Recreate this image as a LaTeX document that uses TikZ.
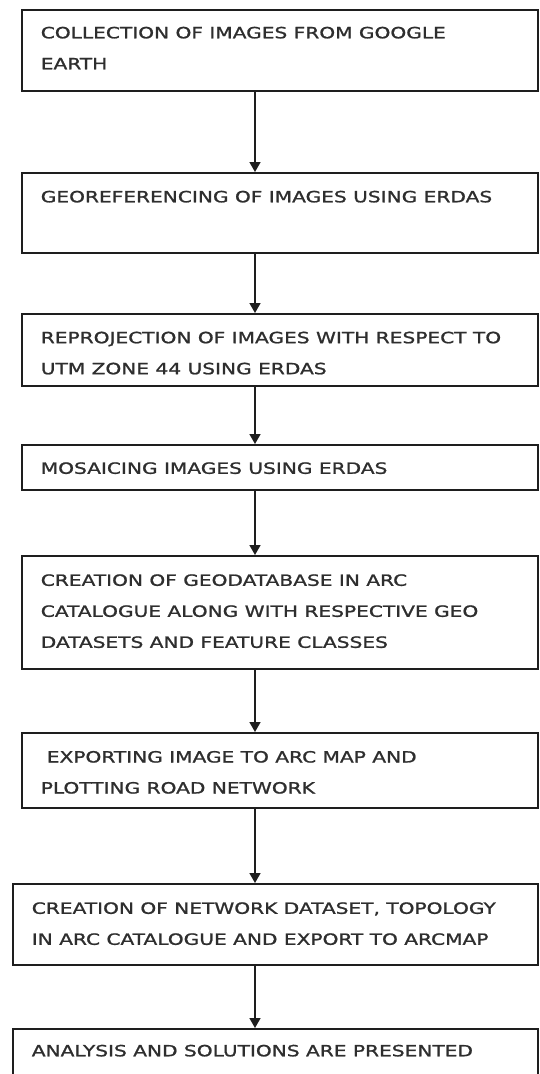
\documentclass[tikz,border=0pt]{standalone}
\usepackage{fontspec}
\setmainfont[FakeStretch=1.3,FakeBold=1.2]{DejaVu Sans}
\usetikzlibrary{arrows.meta}
\definecolor{txt}{HTML}{2E2E2E}
\definecolor{ln}{HTML}{1E1E1E}
\newcommand{\flowtxt}[4]{\parbox[t][#1][t]{#2}{\fontsize{15.5}{31}\selectfont\raggedright\rule{0pt}{#3}#4}}
\begin{document}
\begin{tikzpicture}[x=1pt,y=-1pt,
  box/.style={draw=ln, line width=1.6pt, fill=white, text=txt, inner xsep=19pt, inner ysep=0pt, anchor=north west, rectangle},
  arr/.style={draw=ln, line width=1.6pt, -{Triangle[length=10pt,width=11pt]}}]
\useasboundingbox (0,0) rectangle (539,1074);
\fill[white] (0,0) rectangle (539,1074);
\coordinate (ax) at (255,0);
\node[box] (b1) at (21,9) {\flowtxt{81pt}{478pt}{28.5pt}{COLLECTION OF IMAGES FROM GOOGLE\\EARTH}};
\node[box] (b2) at (21,172) {\flowtxt{80pt}{478pt}{29.5pt}{GEOREFERENCING OF IMAGES USING ERDAS}};
\node[box] (b3) at (21,313) {\flowtxt{72pt}{478pt}{29.4pt}{REPROJECTION OF IMAGES WITH RESPECT TO\\UTM ZONE 44 USING ERDAS}};
\node[box] (b4) at (21,444) {\flowtxt{45pt}{478pt}{29pt}{MOSAICING IMAGES USING ERDAS}};
\node[box] (b5) at (21,555) {\flowtxt{113pt}{478pt}{30pt}{CREATION OF GEODATABASE IN ARC\\CATALOGUE ALONG WITH RESPECTIVE GEO\\DATASETS AND FEATURE CLASSES}};
\node[box] (b6) at (21,732) {\flowtxt{75pt}{478pt}{29.7pt}{\hspace*{6pt}EXPORTING IMAGE TO ARC MAP AND\\PLOTTING ROAD NETWORK}};
\node[box] (b7) at (12,883) {\flowtxt{81pt}{487pt}{30pt}{CREATION OF NETWORK DATASET, TOPOLOGY\\IN ARC CATALOGUE AND EXPORT TO ARCMAP}};
\node[box] (b8) at (12,1028) {\flowtxt{60pt}{487pt}{27.5pt}{ANALYSIS AND SOLUTIONS ARE PRESENTED}};
\draw[arr] (b1.south -| ax) -- (b2.north -| ax);
\draw[arr] (b2.south -| ax) -- (b3.north -| ax);
\draw[arr] (b3.south -| ax) -- (b4.north -| ax);
\draw[arr] (b4.south -| ax) -- (b5.north -| ax);
\draw[arr] (b5.south -| ax) -- (b6.north -| ax);
\draw[arr] (b6.south -| ax) -- (b7.north -| ax);
\draw[arr] (b7.south -| ax) -- (b8.north -| ax);
\end{tikzpicture}
\end{document}
